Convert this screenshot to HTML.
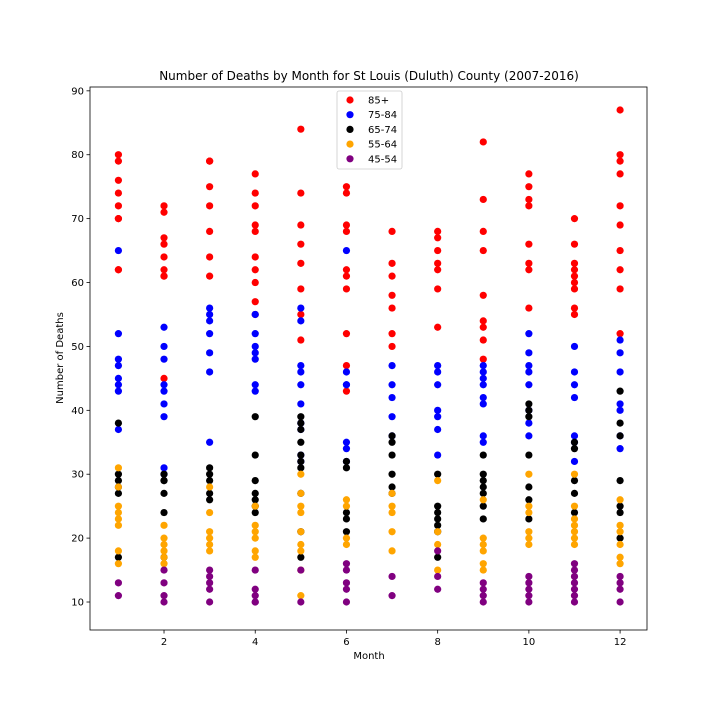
<!DOCTYPE html>
<html><head><meta charset="utf-8"><style>
body{margin:0;background:#fff;font-family:"DejaVu Sans","Liberation Sans",sans-serif}
</style></head><body>
<svg id="chart" width="720" height="720" xmlns="http://www.w3.org/2000/svg" font-family="DejaVu Sans, Liberation Sans, sans-serif">
<rect width="720" height="720" fill="#fff"/>
<text x="369" y="80" text-anchor="middle" font-size="12">Number of Deaths by Month for St Louis (Duluth)  County (2007-2016)</text>
<g id="marks"></g>
<g id="axes"></g>
<text x="369" y="659" text-anchor="middle" font-size="10">Month</text>
<text transform="translate(63,358) rotate(-90)" text-anchor="middle" font-size="10">Number of Deaths</text>
</svg>
<script>
const months=[1,2,3,4,5,6,7,8,9,10,11,12];
const xTicks=[2,4,6,8,10,12];
const yTicks=[10,20,30,40,50,60,70,80,90];
const seriesNames=["85+","75-84","65-74","55-64","45-54"];
const seriesColors=["red","blue","black","orange","purple"];
const s85=[[80,79,76,74,72,70,70,62,62],[72,71,67,66,64,62,61,61,45],[79,79,75,72,68,64,61],[77,74,72,69,68,64,62,60,57,55],[84,74,69,66,63,59,55,51],[75,74,69,68,62,61,59,52,47,43],[68,63,61,58,56,52,50],[68,67,65,63,62,59,53],[82,73,68,65,58,54,53,51,48],[77,75,73,72,66,63,62,56],[70,66,63,62,61,60,59,56,55],[87,80,79,77,72,69,65,62,59,52]];
const s75=[[65,52,48,47,45,44,43,37],[53,50,48,44,43,41,39,31,30],[56,55,54,52,49,46,35],[55,52,50,49,48,44,43],[56,54,47,46,44,41,38,37,33,32],[65,46,44,44,35,34,32],[47,44,42,39,36],[47,46,44,40,39,37,33],[47,46,45,44,42,41,36,35],[52,49,47,46,44,40,38,36],[50,46,44,42,36,35,32],[51,49,46,41,40,36,34]];
const s65=[[38,30,29,28,27,17],[30,29,29,27,24,17],[31,30,29,27,26],[39,33,29,27,26,25,24],[39,38,37,35,33,32,31,27,21,17],[32,31,24,23,21],[36,35,33,30,28,27],[30,25,24,23,22,21,17],[33,30,29,28,27,25,23],[41,40,39,33,28,26,23],[35,34,29,27,24],[43,38,36,29,25,24,20]];
const s55=[[31,28,25,24,23,22,18,16],[22,20,19,18,17,16],[28,24,21,20,19,18],[25,22,21,20,18,17],[30,27,25,24,21,19,18,15,11],[26,25,20,19],[27,25,24,21,18],[29,21,19,15],[26,20,19,18,16,15],[30,25,24,21,20,19],[30,25,23,22,21,20,19],[26,22,21,19,17,16]];
const s45=[[13,11],[15,13,11,10],[15,14,13,12,10],[15,12,11,10,10],[15,10],[16,15,13,12,10],[14,11],[18,14,12],[13,12,11,10],[14,13,12,11,10],[16,15,14,13,12,11,10],[14,13,12,10]];
const allSeries=[s85,s75,s65,s55,s45];
const L=90,R=647,T=87,B=630;
const xMin=0.377,xMax=12.59,yMin=5.62,yMax=90.6;
const X=v=>L+(v-xMin)/(xMax-xMin)*(R-L);
const Y=v=>B-(v-yMin)/(yMax-yMin)*(B-T);
const NS="http://www.w3.org/2000/svg";
function mk(tag,attrs,parent){const e=document.createElementNS(NS,tag);for(const k in attrs)e.setAttribute(k,attrs[k]);parent.appendChild(e);return e;}
const marks=document.getElementById('marks');
allSeries.forEach((ser,si)=>{
  const g=mk('g',{},marks);
  
  
  ser.forEach((vals,mi)=>{vals.forEach(v=>{
    const c=mk('circle',{cx:X(months[mi]),cy:Y(v),r:3.6,fill:seriesColors[si]},g);
    
    
  });});
});
const axes=document.getElementById('axes');
const frame=mk('rect',{x:L,y:T,width:R-L,height:B-T,fill:'none',stroke:'#000','stroke-width':0.8},axes);


xTicks.forEach(t=>{
  mk('line',{x1:X(t),x2:X(t),y1:B,y2:B+3.5,stroke:'#000','stroke-width':0.8},axes);
  const tx=mk('text',{x:X(t),y:B+15,'text-anchor':'middle','font-size':10},axes);
  tx.textContent=t;
  
  
});
yTicks.forEach(t=>{
  mk('line',{x1:L-3.5,x2:L,y1:Y(t),y2:Y(t),stroke:'#000','stroke-width':0.8},axes);
  const tx=mk('text',{x:L-6,y:Y(t)+3.5,'text-anchor':'end','font-size':10},axes);
  tx.textContent=t;
  
  
});
const lg=mk('g',{},axes);


mk('rect',{x:337,y:91,width:65,height:78,rx:2,fill:'#fff','fill-opacity':0.8,stroke:'#ccc','stroke-width':0.8},lg);
seriesNames.forEach((n,i)=>{
  const yy=100+i*14.7;
  mk('circle',{cx:350,cy:yy,r:3.6,fill:seriesColors[i]},lg);
  const t=mk('text',{x:368,y:yy+3.5,'font-size':10},lg);
  t.textContent=n;
  
  
});
</script>
</body></html>
